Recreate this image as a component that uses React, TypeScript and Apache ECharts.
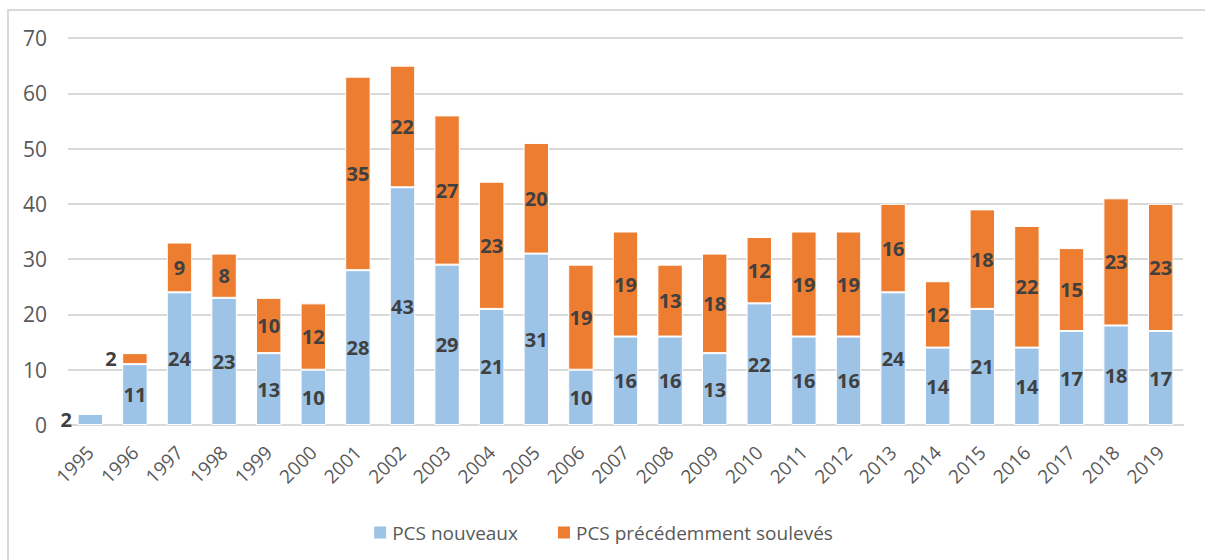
import React, { useEffect, useRef } from "react";
import * as echarts from "echarts";

const years = ["1995","1996","1997","1998","1999","2000","2001","2002","2003","2004","2005","2006","2007","2008","2009","2010","2011","2012","2013","2014","2015","2016","2017","2018","2019"];
const nouveaux = [2,11,24,23,13,10,28,43,29,21,31,10,16,16,13,22,16,16,24,14,21,14,17,18,17];
const precedents = [0,2,9,8,10,12,35,22,27,23,20,19,19,13,18,12,19,19,16,12,18,22,15,23,23];
const yTicks = [0,10,20,30,40,50,60,70];

const labelStyle = {
  show: true,
  position: "inside" as const,
  color: "#404040",
  fontWeight: "bold" as const,
  fontSize: 20,
  fontFamily: "Open Sans, sans-serif",
};

export default function App() {
  const ref = useRef<HTMLDivElement>(null);
  useEffect(() => {
    const chart = echarts.init(ref.current!, null, { renderer: "svg" });
    const blueData = nouveaux.map((v, i) =>
      i === 0 ? { value: v, label: { offset: [-24, 0] } } : v
    );
    const orangeData = precedents.map((v, i) =>
      v === 0 ? { value: v, label: { show: false } } : i === 1 ? { value: v, label: { offset: [-24, 0] } } : v
    );
    chart.setOption({
      animation: false,
      backgroundColor: "#ffffff",
      textStyle: { fontFamily: "Open Sans, sans-serif" },
      graphic: [
        {
          type: "rect",
          shape: { x: 8, y: 10, width: 1220, height: 580 },
          style: { fill: "none", stroke: "#D9D9D9", lineWidth: 2 },
          silent: true,
        },
      ],
      grid: { left: 68, right: 22, top: 38, bottom: 135, containLabel: false },
      legend: {
        top: 518,
        left: "center",
        itemWidth: 14,
        itemHeight: 14,
        itemGap: 38,
        icon: "rect",
        textStyle: { color: "#595959", fontSize: 19, fontFamily: "Open Sans, sans-serif" },
        data: ["PCS nouveaux", "PCS précédemment soulevés"],
      },
      xAxis: {
        type: "category",
        data: years,
        axisLine: { lineStyle: { color: "#D9D9D9", width: 2 } },
        axisTick: { show: false },
        axisLabel: { rotate: 45, color: "#595959", fontSize: 19, margin: 24, interval: 0 },
      },
      yAxis: {
        type: "value",
        min: yTicks[0],
        max: yTicks[yTicks.length - 1],
        interval: 10,
        axisLine: { show: false },
        axisTick: { show: false },
        splitLine: { lineStyle: { color: "#D9D9D9", width: 2 } },
        axisLabel: { color: "#595959", fontSize: 21, margin: 21 },
      },
      series: [
        {
          name: "PCS nouveaux",
          type: "bar",
          stack: "total",
          barWidth: "57%",
          itemStyle: { color: "#9DC3E6", borderColor: "#ffffff", borderWidth: 1 },
          label: labelStyle,
          data: blueData,
        },
        {
          name: "PCS précédemment soulevés",
          type: "bar",
          stack: "total",
          barWidth: "57%",
          itemStyle: { color: "#ED7D31", borderColor: "#ffffff", borderWidth: 1 },
          label: labelStyle,
          data: orangeData,
        },
      ],
    });
    return () => chart.dispose();
  }, []);
  return (
    <div
      ref={ref}
      style={{ position: "absolute", left: 0, top: 0, width: 1205, height: 560 }}
    />
  );
}
